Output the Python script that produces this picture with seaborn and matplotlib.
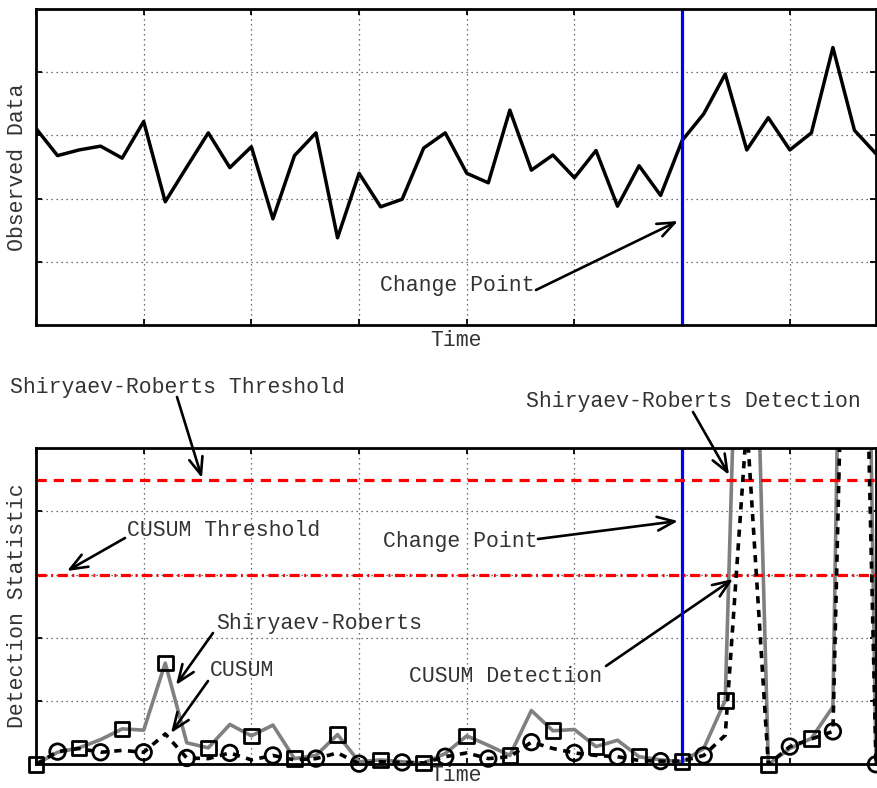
import numpy as np
import pandas as pd
import matplotlib
matplotlib.use("Agg")
import matplotlib.pyplot as plt
import seaborn as sns

# ---- data -----------------------------------------------------------------
time = list(range(40))
observed = [3.11, 2.68, 2.77, 2.83, 2.64, 3.22, 1.95, 2.50, 3.04, 2.49,
            2.82, 1.68, 2.68, 3.04, 1.38, 2.40, 1.87, 1.99, 2.80, 3.04,
            2.40, 2.25, 3.40, 2.45, 2.69, 2.33, 2.76, 1.88, 2.52, 2.05,
            2.92, 3.34, 3.97, 2.77, 3.28, 2.77, 3.04, 4.39, 3.08, 2.71]
shiryaev_roberts = [0.00, 0.19, 0.26, 0.39, 0.56, 0.54, 1.60, 0.34, 0.26, 0.63,
                    0.45, 0.62, 0.09, 0.14, 0.47, 0.04, 0.07, 0.04, 0.02, 0.17,
                    0.45, 0.30, 0.14, 0.85, 0.53, 0.55, 0.28, 0.38, 0.12, 0.07,
                    0.04, 0.25, 1.01, 12.8, 0.00, 0.25, 0.41, 0.91, 22.0, 0.00]
cusum = [0.00, 0.20, 0.25, 0.19, 0.22, 0.19, 0.48, 0.10, 0.09, 0.18,
         0.07, 0.14, 0.07, 0.09, 0.18, 0.01, 0.04, 0.03, 0.02, 0.12,
         0.18, 0.09, 0.12, 0.35, 0.25, 0.18, 0.14, 0.12, 0.06, 0.05,
         0.05, 0.14, 0.46, 5.40, 0.00, 0.28, 0.40, 0.52, 15.0, 0.00]
change_point = 30
sr_threshold = 4.5
cusum_threshold = 3.0

# ---- style ----------------------------------------------------------------
sns.set_style("white")
plt.rcParams["font.family"] = ["Liberation Mono", "DejaVu Sans Mono"]
plt.rcParams["font.size"] = 15.5
TXT = "#333333"

fig = plt.figure(figsize=(8.77, 7.88), dpi=100)
W, H = 877, 788
def axes_rect(x0, y0, x1, y1):
    return [x0 / W, 1 - y1 / H, (x1 - x0) / W, (y1 - y0) / H]

ax1 = fig.add_axes(axes_rect(36, 9, 876, 325))
ax2 = fig.add_axes(axes_rect(36, 448, 876, 764.3))

XMAX, YMAX = 39, 5

def style_axes(ax, ylabel, xlabel_offset):
    ax.set_xlim(0, XMAX)
    ax.set_ylim(0, YMAX)
    ax.set_xticks(range(0, 40, 5))
    ax.set_yticks([1, 2, 3, 4])
    ax.tick_params(direction="in", length=4.5, width=1.3, color="black",
                   top=True, right=True, bottom=True, left=True,
                   labelbottom=False, labelleft=False)
    ax.grid(True, color="#444444", linestyle=(0, (1, 3)), linewidth=0.9)
    for s in ax.spines.values():
        s.set_linewidth(2.0)
        s.set_color("black")
        s.set_zorder(10)
    ax.set_xlabel("Time", color=TXT, va="center")
    ax.set_ylabel(ylabel, color=TXT, va="center")
    bbox = ax.get_position()
    w_px, h_px = bbox.width * W, bbox.height * H
    ax.xaxis.set_label_coords(0.5, -xlabel_offset / h_px)
    ax.yaxis.set_label_coords(-18 / w_px, 0.5)

def arrow_px(ax, tail, tip):
    ax.annotate("", xy=(tip[0], H - tip[1]), xytext=(tail[0], H - tail[1]),
                xycoords="figure pixels", textcoords="figure pixels",
                annotation_clip=False,
                arrowprops=dict(arrowstyle="->,head_length=0.8,head_width=0.32",
                                color="black", lw=1.9, shrinkA=0, shrinkB=0))

def label(ax, x, y, s):
    ax.annotate(s, xy=(x, H - y), xycoords="figure pixels", ha="left",
                va="center", color=TXT, annotation_clip=False)

# ---- top panel: observed data -------------------------------------------
df_obs = pd.DataFrame({"Time": time, "Observed": observed})
sns.lineplot(data=df_obs, x="Time", y="Observed", ax=ax1, color="black",
             linewidth=2.5, zorder=3)
ax1.axvline(change_point, color="#0000ff", linewidth=2.3, zorder=4)
style_axes(ax1, "Observed Data", 15)

label(ax1, 380, 286, "Change Point")
arrow_px(ax1, (536, 290), (678, 221))

# ---- bottom panel: detection statistics ---------------------------------
df_det = pd.DataFrame({"Time": time, "SR": shiryaev_roberts, "CUSUM": cusum})
ax2.axhline(sr_threshold, color="#ff0000", linewidth=2.3,
            linestyle=(0, (3.2, 2.2)), zorder=5)
ax2.axhline(cusum_threshold, color="#ff0000", linewidth=2.3,
            linestyle=(0, (3.2, 1.4, 0.6, 1.4)), zorder=5)
sns.lineplot(data=df_det, x="Time", y="SR", ax=ax2, color="#808080",
             linewidth=2.6, zorder=3)
sns.lineplot(data=df_det, x="Time", y="CUSUM", ax=ax2, color="black",
             linewidth=2.6, linestyle=(0, (2.0, 1.8)), zorder=6)
ax2.axvline(change_point, color="#0000ff", linewidth=2.3, zorder=4)

# markers: squares on even samples (SR), circles on odd samples (CUSUM),
# drawn only where the sample lies within the axes limits
sr_mk = df_det[(df_det["Time"] % 2 == 0) & (df_det["SR"] <= YMAX)]
cu_mk = df_det[(df_det["Time"] % 2 == 1) & (df_det["CUSUM"] <= YMAX)]
sns.scatterplot(data=sr_mk, x="Time", y="SR", ax=ax2, marker="s", s=110,
                facecolors="none", edgecolors="black", linewidths=2.0,
                clip_on=False, zorder=12)
sns.scatterplot(data=cu_mk, x="Time", y="CUSUM", ax=ax2, marker="o", s=125,
                facecolors="none", edgecolors="black", linewidths=2.0,
                clip_on=False, zorder=12)
style_axes(ax2, "Detection Statistic", 11.5)

label(ax2, 10, 387, "Shiryaev-Roberts Threshold")
arrow_px(ax2, (177, 397), (202, 478))
label(ax2, 526, 402, "Shiryaev-Roberts Detection")
arrow_px(ax2, (693, 412), (729, 475))
label(ax2, 127, 530, "CUSUM Threshold")
arrow_px(ax2, (125, 538), (67, 571))
label(ax2, 383, 542, "Change Point")
arrow_px(ax2, (538, 539), (678, 521))
label(ax2, 216, 623, "Shiryaev-Roberts")
arrow_px(ax2, (213, 633), (176, 685))
label(ax2, 210, 671, "CUSUM")
arrow_px(ax2, (208, 681), (171, 733))
label(ax2, 409, 677, "CUSUM Detection")
arrow_px(ax2, (606, 666), (733, 579))

fig.savefig("out.png", dpi=100)
